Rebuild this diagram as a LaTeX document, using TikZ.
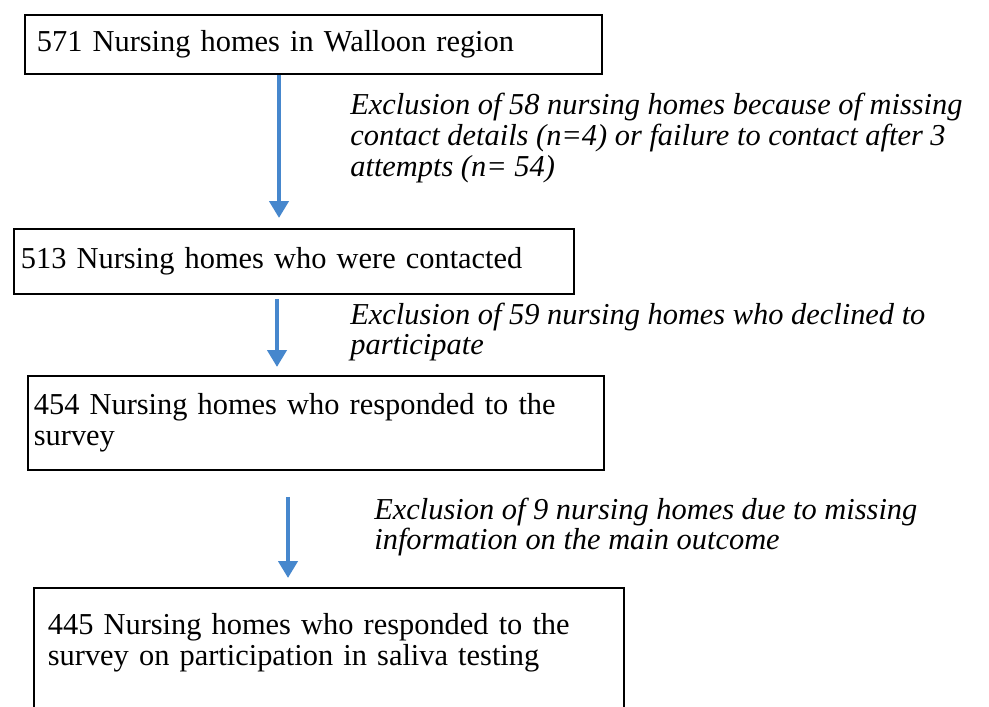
\documentclass[tikz,border=0pt]{standalone}
\usepackage{fontspec}
\setmainfont{Liberation Serif}
\usepackage{xcolor}
\usetikzlibrary{arrows.meta,positioning}

\definecolor{flowblue}{RGB}{70,135,205}

\begin{document}
\begin{tikzpicture}[
    box/.style={rectangle, draw, line width=1pt, align=left, anchor=north west, inner ysep=0pt, font=\fontsize{17.3}{17.6}\selectfont},
    note/.style={anchor=west, align=left, inner sep=0pt, font=\fontsize{17.3}{17.6}\selectfont\itshape},
    arrow/.style={->, >={Triangle[width=0.38cm, length=0.34cm]}, line width=0.09cm, flowblue}
]
    \useasboundingbox (0,0) rectangle (19.78,-14.12);

    \node[box, inner xsep=0.24cm, text width=11.06cm, minimum height=1.18cm] (walloon) at (0.48,-0.28) {571 Nursing homes in Walloon region};
    \node[box, inner xsep=0.14cm, text width=10.92cm, minimum height=1.3cm] (contacted) at (0.26,-4.56) {513 Nursing homes who were contacted};
    \node[box, inner xsep=0.12cm, text width=11.28cm, minimum height=1.88cm] (responded) at (0.54,-7.5) {454 Nursing homes who responded to the\\survey};
    \node[box, inner xsep=0.28cm, inner ysep=0.3cm, text width=11.24cm, text height=0.64cm, text depth=2.5cm] (saliva) at (0.66,-11.74) {445 Nursing homes who responded to the\\survey on participation in saliva testing};

    \node[note] (excl1) at (7.0,-2.76) {Exclusion of 58 nursing homes because of missing\\contact details (n=4) or failure to contact after 3\\attempts (n= 54)};
    \node[note] (excl2) at (7.0,-6.64) {Exclusion of 59 nursing homes who declined to\\participate};
    \node[note] (excl3) at (7.48,-10.54) {Exclusion of 9 nursing homes due to missing\\information on the main outcome};

    \coordinate (col1) at (5.58,0);
    \coordinate (col2) at (5.54,0);
    \coordinate (col3) at (5.76,0);

    \draw[arrow, shorten >=0.2cm] (walloon.south -| col1) -- (contacted.north -| col1);
    \draw[arrow, shorten <=0.08cm, shorten >=0.16cm] (contacted.south -| col2) -- (responded.north -| col2);
    \draw[arrow, shorten <=0.52cm, shorten >=0.18cm] (responded.south -| col3) -- (saliva.north -| col3);
\end{tikzpicture}
\end{document}
